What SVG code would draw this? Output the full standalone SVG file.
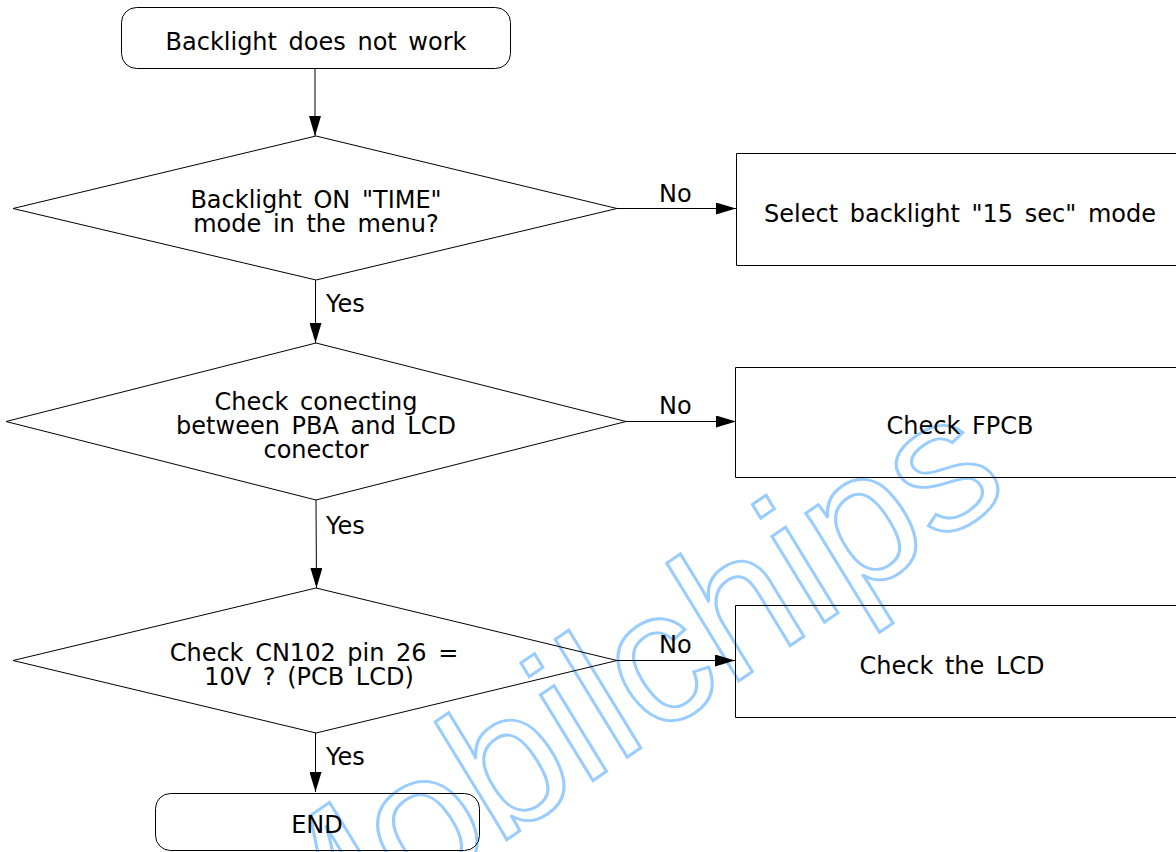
<svg xmlns="http://www.w3.org/2000/svg" width="1176" height="852" viewBox="0 0 1176 852">
<style>
text{font-family:"DejaVu Sans",sans-serif;font-size:24px;fill:#000;word-spacing:4px}
.c{text-anchor:middle}
.n{fill:none;stroke:#000;stroke-width:1}
.w{font-family:"Liberation Sans",sans-serif;font-style:italic;font-size:190px;fill:none;stroke:#99ccff;stroke-width:3;word-spacing:0}
</style>
<defs><marker id="a" markerUnits="userSpaceOnUse" markerWidth="20" markerHeight="12" refX="20" refY="6" orient="auto"><path d="M0 0L20 6L0 12Z" fill="#000"/></marker></defs>
<rect width="1176" height="852" fill="#fff"/>
<text class="w" transform="translate(290 988) rotate(-34.4) skewX(8) scale(.985 1)">Mobilchips</text>
<g id="connectors">
<path class="n" marker-end="url(#a)" d="M315 69V136"/>
<path class="n" marker-end="url(#a)" d="M315.500 280V343"/>
<path class="n" marker-end="url(#a)" d="M316 500L316.500 588"/>
<path class="n" marker-end="url(#a)" d="M315.500 733V792"/>
<path class="n" marker-end="url(#a)" d="M617 208.500H736"/>
<path class="n" marker-end="url(#a)" d="M626 421.500H736"/>
<path class="n" marker-end="url(#a)" d="M617 660.500H735"/>
</g>
<g id="start"><rect class="n" x="121.500" y="7.500" width="389" height="61" rx="15"/><text class="c" x="316" y="50">Backlight does not work</text></g>
<g id="d1"><path class="n" d="M13 208.500L316 136L617 208.500L316 280Z"/><text class="c" x="316" y="208">Backlight ON "TIME"</text><text class="c" x="316" y="232">mode in the menu?</text></g>
<g id="d2"><path class="n" d="M6 421.500L316 343L626 421.500L316 500Z"/><text class="c" x="316" y="410">Check conecting</text><text class="c" x="316" y="434">between PBA and LCD</text><text class="c" x="316" y="458">conector</text></g>
<g id="d3"><path class="n" d="M13 660.500L316 588L617 660.500L316 733Z"/><text class="c" x="314" y="661">Check CN102 pin 26 =</text><text class="c" x="309" y="685">10V ? (PCB LCD)</text></g>
<g id="b1"><path class="n" d="M1176 153.500H736.500V265.500H1176"/><text class="c" x="960" y="222">Select backlight "15 sec" mode</text></g>
<g id="b2"><path class="n" d="M1176 367.500H735.500V477.500H1176"/><text class="c" x="960" y="434">Check FPCB</text></g>
<g id="b3"><path class="n" d="M1176 605.500H735.500V717.500H1176"/><text class="c" x="952" y="674">Check the LCD</text></g>
<g id="end"><rect class="n" x="155.500" y="793.500" width="324" height="57" rx="15"/><text class="c" x="317" y="833">END</text></g>
<text x="659" y="202">No</text><text x="659" y="414">No</text><text x="659" y="653">No</text>
<text x="326" y="312">Yes</text><text x="326" y="534">Yes</text><text x="326" y="765">Yes</text>
</svg>
